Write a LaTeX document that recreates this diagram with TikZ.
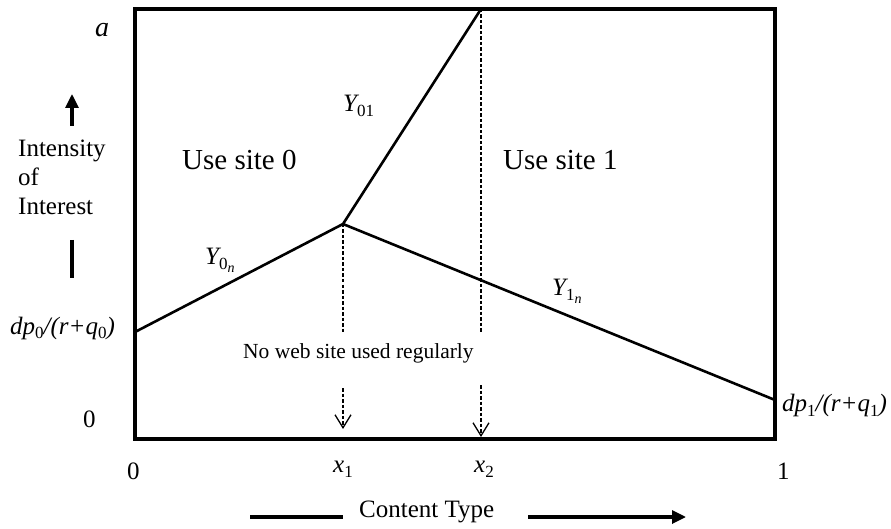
\documentclass[tikz,border=0pt]{standalone}
\usepackage{fontspec}
\setmainfont{Liberation Serif}
\usetikzlibrary{arrows.meta}
\newcommand{\mysub}[1]{\raisebox{-5pt}{\fontsize{17}{20}\selectfont\upshape #1}}
\newcommand{\mysubsub}[1]{\raisebox{-3pt}{\fontsize{14}{16}\selectfont\itshape #1}}
\begin{document}
\begin{tikzpicture}[x=1pt,y=-1pt,
  frame/.style={line width=4.5pt},
  curve/.style={line width=2.6pt,line join=round},
  guide/.style={line width=1.3pt,dash pattern=on 3.5pt off 2pt},
  guidearrow/.style={guide,-{Straight Barb[length=13pt,width=16pt,line width=1.3pt]}},
  axisline/.style={line width=3.2pt},
  axisarrow/.style={line width=3.2pt,-{Triangle[length=14pt,width=13pt]}},
  lbl/.style={inner sep=0pt,anchor=base west,font=\fontsize{25}{30}\selectfont},
  big/.style={inner sep=0pt,anchor=base west,font=\fontsize{29}{34}\selectfont},
  small/.style={inner sep=0pt,anchor=base west,font=\fontsize{21.5}{26}\selectfont}]
\useasboundingbox (0,0) rectangle (891,529);
% key points
\coordinate (P0) at (135,332);
\coordinate (K) at (343,224);
\coordinate (T) at (481,9);
\coordinate (P1) at (775,400);
\coordinate (K1) at (343,332);
\coordinate (T1) at (481,332);
\coordinate (A1s) at (343,388);
\coordinate (A1e) at (343,429);
\coordinate (A2s) at (481,385);
\coordinate (A2e) at (481,437);
% curves
\draw[curve] (P0) -- (K) -- (T);
\draw[curve] (K) -- (P1);
% guides
\draw[guide] (K) -- (K1);
\draw[guide] (T) -- (T1);
\draw[guidearrow] (A1s) -- (A1e);
\draw[guidearrow] (A2s) -- (A2e);
% frame
\draw[frame] (135,9) rectangle (775,439);
% axis indicators
\coordinate (U0) at (72,126);
\coordinate (U1) at (72,94);
\draw[axisarrow] (U0) -- (U1);
\coordinate (V0) at (72,240);
\coordinate (V1) at (72,278);
\draw[axisline] (V0) -- (V1);
\coordinate (C0) at (250,517);
\coordinate (C1) at (343,517);
\draw[axisline] (C0) -- (C1);
\coordinate (C2) at (528,517);
\coordinate (C3) at (686,517);
\draw[axisarrow] (C2) -- (C3);
% labels
\node[lbl,font=\fontsize{28}{32}\selectfont] (la) at (95,37) {\itshape a};
\node[lbl] (lint) at (18,157) {Intensity};
\node[lbl] (lof) at (18,186) {of};
\node[lbl] (linr) at (18,215) {Interest};
\node[lbl] (ldp0) at (10,334) {\itshape dp\mysub{0}/(r+q\mysub{0})};
\node[lbl] (lzl) at (83,427) {0};
\node[lbl] (lzb) at (127,479) {0};
\node[lbl] (lx1) at (333,472) {\itshape x\mysub{1}};
\node[lbl] (lx2) at (474,472) {\itshape x\mysub{2}};
\node[lbl] (lone) at (777,479) {1};
\node[lbl] (lct) at (359,517) {Content Type};
\node[big] (lu0) at (182,170) {Use site 0};
\node[big] (lu1) at (503,170) {Use site 1};
\node[lbl] (ly01) at (343,112) {\itshape Y\mysub{01}};
\node[lbl] (ly0n) at (205,265) {\itshape Y\mysub{0\mysubsub{n}}};
\node[lbl] (ly1n) at (552,295) {\itshape Y\mysub{1\mysubsub{n}}};
\node[small] (lno) at (243,358) {No web site used regularly};
\node[lbl] (ldp1) at (782,411) {\itshape dp\mysub{1}/(r+q\mysub{1})};
\end{tikzpicture}
\end{document}
